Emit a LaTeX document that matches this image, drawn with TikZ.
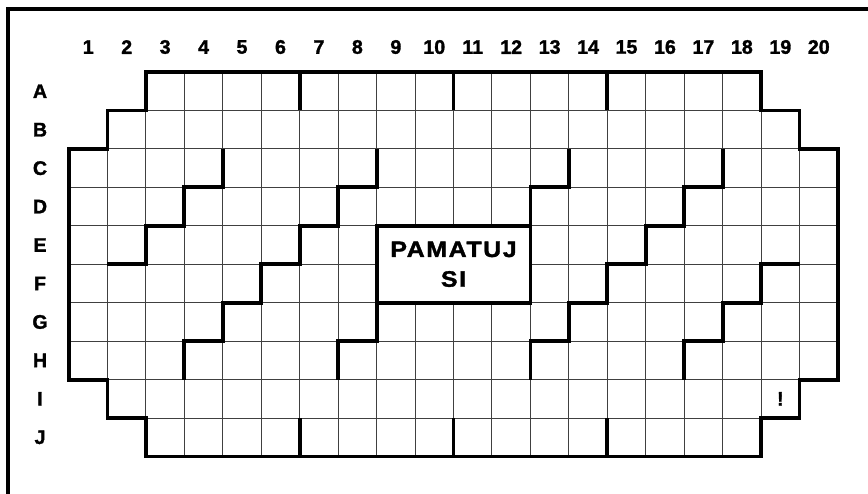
\documentclass[tikz,border=0pt]{standalone}
\usepackage{fontspec}
\setmainfont{Liberation Sans}
\newfontfamily\boardfont[FakeBold=1.6]{Liberation Sans}
\newfontfamily\memofont[FakeStretch=1.12,LetterSpace=7,FakeBold=1.6]{Liberation Sans}
\usetikzlibrary{positioning}

\begin{document}
\begin{tikzpicture}[
  cellline/.style={black!75, line width=0.75pt},
  wall/.style={line width=2.8pt},
  frame/.style={line width=3.2pt},
  lbl/.style={font=\boardfont\bfseries\fontsize{14.5}{16}\selectfont, inner sep=0pt},
  memo/.style={draw, fill=white, line width=2.8pt, minimum width=4cm, minimum height=2cm,
    inner sep=0pt, align=center, font=\memofont\bfseries\fontsize{16.5}{22}\selectfont}]
% page size and frame
\useasboundingbox (-1.795,1.873) rectangle (20.78,-10.95);
\clip (-1.795,1.873) rectangle (20.78,-10.95);
\draw[frame] (-1.586,-12) |- (22,1.638);
% thin cell lines inside the board
\begin{scope}
\clip (2,0) -- (18,0) -- (18,-1) -- (19,-1) -- (19,-2) -- (20,-2) -- (20,-8) -- (19,-8)
  -- (19,-9) -- (18,-9) -- (18,-10) -- (2,-10) -- (2,-9) -- (1,-9) -- (1,-8) -- (0,-8)
  -- (0,-2) -- (1,-2) -- (1,-1) -- (2,-1) -- cycle;
\draw[cellline] (0,-10) grid (20,0);
\end{scope}
% column and row labels
\foreach \i in {1,...,20}
  \node[lbl] (c\i) at (\i-0.5,0.65) {\i};
\foreach \l [count=\j] in {A,B,C,D,E,F,G,H,I,J}
  \node[lbl] (r\l) at (-0.754,0.5-\j) {\l};
% walls at top and bottom
\draw[wall] (6,0) -- (6,-1); \draw[wall] (10,0) -- (10,-1); \draw[wall] (14,0) -- (14,-1);
\draw[wall] (6,-9) -- (6,-10); \draw[wall] (10,-9) -- (10,-10); \draw[wall] (14,-9) -- (14,-10);
% left stairs
\draw[wall] (4,-2) |- (3,-3) |- (2,-4) |- (1,-5);
\draw[wall] (8,-2) |- (7,-3) |- (6,-4) |- (5,-5) |- (4,-6) |- (3,-7) -- (3,-8);
\draw[wall] (8,-6) |- (7,-7) -- (7,-8);
% right stairs
\draw[wall] (13,-2) |- (12,-3) -- (12,-4);
\draw[wall] (17,-2) |- (16,-3) |- (15,-4) |- (14,-5) |- (13,-6) |- (12,-7) -- (12,-8);
\draw[wall] (16,-8) |- (17,-7) |- (18,-6) |- (19,-5);
% middle box
\node[memo] (memo) at (10,-5) {PAMATUJ\\SI};
% board outline
\draw[wall] (2,0) -- (18,0) -- (18,-1) -- (19,-1) -- (19,-2) -- (20,-2) -- (20,-8) -- (19,-8)
  -- (19,-9) -- (18,-9) -- (18,-10) -- (2,-10) -- (2,-9) -- (1,-9) -- (1,-8) -- (0,-8)
  -- (0,-2) -- (1,-2) -- (1,-1) -- (2,-1) -- cycle;
\node[lbl] (mark) at (18.5,-8.5) {!};
\end{tikzpicture}
\end{document}
